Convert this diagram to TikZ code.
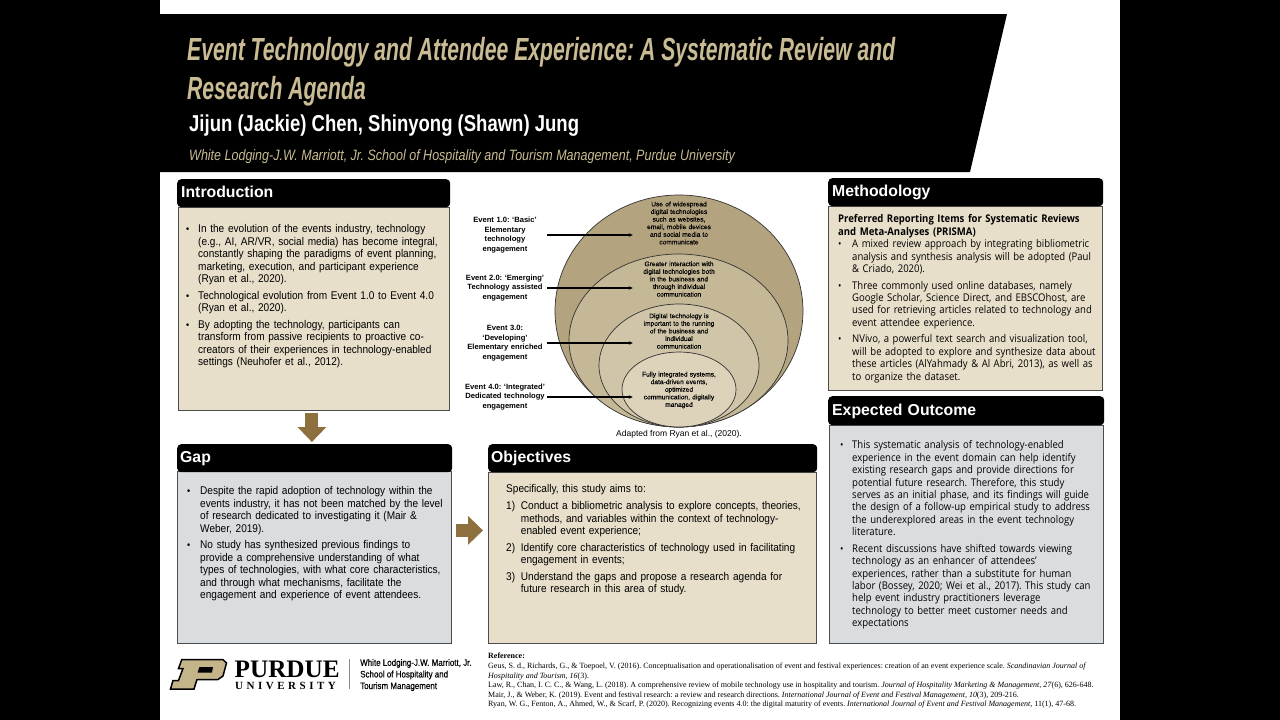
\documentclass[tikz,border=0pt]{standalone}
\usepackage{fontspec}
\usepackage{tikz}
\usetikzlibrary{arrows.meta,positioning}
\setmainfont{Liberation Sans}
\newfontfamily\listfont[FakeStretch=.9]{Liberation Sans}
\newfontfamily\opensans[FakeStretch=.9]{Open Sans}
\newfontfamily\timesfont{Liberation Serif}
\newfontfamily\titlefont[FakeStretch=.661]{Liberation Sans}
\newfontfamily\authorfont[FakeStretch=.805]{Liberation Sans}
\newfontfamily\schoolfont[FakeStretch=.834]{Liberation Sans}
\newfontfamily\logofont[FakeStretch=.85,FakeBold=.3]{Liberation Sans}
\newfontfamily\univfont[LetterSpace=32]{Liberation Serif}
\newfontfamily\ringfont[FakeBold=.2]{Liberation Sans}
\definecolor{aged}{HTML}{8E6F3E}
\definecolor{tanbody}{HTML}{E8DFCB}
\definecolor{greybody}{HTML}{DADDDF}
\definecolor{titlegold}{HTML}{C9BC94}
\definecolor{logogold}{HTML}{C4B48A}
\definecolor{ringa}{HTML}{B3A37F}
\definecolor{ringb}{HTML}{C4B896}
\definecolor{ringc}{HTML}{D0C5A8}
\definecolor{ringd}{HTML}{DDD3BB}
\newlength{\markw}
\newcommand{\fitem}[2][\fontsize{10}{10}\selectfont\textbullet]{\hangindent=\markw\hangafter=1\noindent\makebox[\markw][l]{#1}\strut #2}
\newcommand{\pitem}[2][\fontsize{10}{10}\selectfont\textbullet]{\par\fitem[#1]{#2}}
\tikzset{
  headbox/.style={anchor=north west, fill=black, text=white, rounded corners=4pt, inner sep=0pt, text width=#1, text height=11.5pt, text depth=2.5pt, font=\bfseries\fontsize{15.8}{18}\selectfont, align=left},
  bodybox/.style={anchor=north west, draw=black!70, line width=.8pt, inner sep=0pt},
  listtext/.style={anchor=north west, inner sep=0pt, text width=340pt, align=left, font=\listfont\fontsize{11.2}{12.45}\selectfont, execute at begin node={\def\\{\hfil\break}\setlength{\markw}{#1}\setlength{\parskip}{4.2pt}}},
  ringlabel/.style={inner sep=0pt, text width=84pt, align=center, font=\bfseries\fontsize{7.6}{9.7}\selectfont},
  ringtext/.style={inner sep=0pt, text width=92pt, align=center, font=\ringfont\fontsize{6.6}{7.6}\selectfont},
  pointer/.style={-{Stealth[length=4pt,width=3.5pt]}, line width=1.1pt},
  bigarrow/.style={-{Triangle[length=15pt,width=28pt]}, draw=aged, line width=13pt},
  ring/.style={draw=black!80, line width=.7pt}
}
\begin{document}
\frenchspacing
\begin{tikzpicture}[x=1pt,y=-1pt]
  \useasboundingbox (0,0) rectangle (1280,720);
  \fill[black] (0,0) rectangle (160,720);
  \fill[black] (1120,0) rectangle (1280,720);

  % title band
  \fill[black] (160,14) -- (1007,14) -- (970,172) -- (160,172) -- cycle;
  \node[anchor=west, inner sep=0pt, text=titlegold, font=\titlefont\bfseries\itshape\fontsize{32}{39}\selectfont] (titleone) at (187,52) {Event Technology and Attendee Experience: A Systematic Review and};
  \node[anchor=west, inner sep=0pt, text=titlegold, font=\titlefont\bfseries\itshape\fontsize{32}{39}\selectfont] (titletwo) at (187,91) {Research Agenda};
  \node[anchor=west, inner sep=0pt, text=white, font=\authorfont\bfseries\fontsize{23}{25}\selectfont] (authors) at (189,126) {Jijun (Jackie) Chen, Shinyong (Shawn) Jung};
  \node[anchor=west, inner sep=0pt, text=titlegold, font=\schoolfont\itshape\fontsize{15}{17}\selectfont] (school) at (189,157) {White Lodging-J.W. Marriott, Jr. School of Hospitality and Tourism Management, Purdue University};

  % panels
  \node[bodybox, fill=tanbody, minimum width=271pt, minimum height=203pt] (introbody) at (178,207) {};
  \node[headbox=265pt, minimum height=28pt, inner xsep=4pt] (introhead) at (177,179) {Introduction};
  \node[bodybox, fill=greybody, minimum width=274pt, minimum height=172pt] (gapbody) at (177,471) {};
  \node[headbox=269pt, minimum height=28pt, inner xsep=3pt] (gaphead) at (177,444) {Gap};
  \node[bodybox, fill=tanbody, minimum width=328pt, minimum height=171pt] (objbody) at (488,472) {};
  \node[headbox=323pt, minimum height=28pt, inner xsep=3pt] (objhead) at (488,444) {Objectives};
  \node[bodybox, fill=tanbody, minimum width=274pt, minimum height=184pt] (methbody) at (828,206) {};
  \node[headbox=267pt, minimum height=28pt, inner xsep=4pt] (methhead) at (828,178) {Methodology};
  \node[bodybox, fill=greybody, minimum width=274pt, minimum height=218pt] (outbody) at (829,425) {};
  \node[headbox=268pt, minimum height=29pt, inner xsep=4pt] (outhead) at (828,396) {Expected Outcome};

  \draw[bigarrow, shorten <=2pt, shorten >=2pt] ([xshift=-2pt]introbody.south) -- ([xshift=-2pt]introbody.south |- gaphead.north);
  \draw[bigarrow, shorten <=4pt, shorten >=5pt] ([yshift=27pt]gapbody.east) -- ([yshift=27pt]gapbody.east -| objbody.west);

  \node[listtext=12pt] (introtext) at (186,224) {
    \fitem{In the evolution of the events industry, technology\\(e.g., AI, AR/VR, social media) has become integral,\\constantly shaping the paradigms of event planning,\\marketing, execution, and participant experience\\(Ryan et al., 2020).}
    \pitem{Technological evolution from Event 1.0 to Event 4.0\\(Ryan et al., 2020).}
    \pitem{By adopting the technology, participants can\\transform from passive recipients to proactive co-\\creators of their experiences in technology-enabled\\settings (Neuhofer et al., 2012).}\par};
  \node[listtext=13pt] (gaptext) at (187,486) {
    \fitem{Despite the rapid adoption of technology within the\\events industry, it has not been matched by the level\\of research dedicated to investigating it (Mair \&\\Weber, 2019).}
    \pitem{No study has synthesized previous findings to\\provide a comprehensive understanding of what\\types of technologies, with what core characteristics,\\and through what mechanisms, facilitate the\\engagement and experience of event attendees.}\par};
  \node[listtext=14.7pt] (objtext) at (506,484) {
    \strut Specifically, this study aims to:
    \pitem[1)]{Conduct a bibliometric analysis to explore concepts, theories,\\methods, and variables within the context of technology-\\enabled event experience;}
    \pitem[2)]{Identify core characteristics of technology used in facilitating\\engagement in events;}
    \pitem[3)]{Understand the gaps and propose a research agenda for\\future research in this area of study.}\par};
  \node[listtext=14pt, font=\opensans\fontsize{10.6}{12.4}\selectfont] (methtext) at (838,214) {
    \textbf{\strut Preferred Reporting Items for Systematic Reviews\\and Meta-Analyses (PRISMA)}\par\vspace{-4.2pt}
    \fitem{A mixed review approach by integrating bibliometric\\analysis and synthesis analysis will be adopted (Paul\\\& Criado, 2020).}
    \pitem{Three commonly used online databases, namely\\Google Scholar, Science Direct, and EBSCOhost, are\\used for retrieving articles related to technology and\\event attendee experience.}
    \pitem{NVivo, a powerful text search and visualization tool,\\will be adopted to explore and synthesize data about\\these articles (AlYahmady \& Al Abri, 2013), as well as\\to organize the dataset.}\par};
  \node[listtext=12pt, font=\opensans\fontsize{10.6}{12.4}\selectfont] (outtext) at (840,440) {
    \fitem{This systematic analysis of technology-enabled\\experience in the event domain can help identify\\existing research gaps and provide directions for\\potential future research. Therefore, this study\\serves as an initial phase, and its findings will guide\\the design of a follow-up empirical study to address\\the underexplored areas in the event technology\\literature.}
    \pitem{Recent discussions have shifted towards viewing\\technology as an enhancer of attendees’\\experiences, rather than a substitute for human\\labor (Bossey, 2020; Wei et al., 2017). This study can\\help event industry practitioners leverage\\technology to better meet customer needs and\\expectations}\par};

  % nested event rings
  \draw[ring, fill=ringa] (679,311) ellipse (124pt and 116pt);
  \draw[ring, fill=ringb] (678.5,340.5) ellipse (109.5pt and 86.5pt);
  \draw[ring, fill=ringc] (679,365.5) ellipse (80pt and 61.5pt);
  \draw[ring, fill=ringd] (679,389.5) ellipse (57pt and 37.5pt);

  \node[ringtext] (descone) at (679,223) {Use of widespread\\digital technologies\\such as websites,\\email, mobile devices\\and social media to\\communicate};
  \node[ringtext] (desctwo) at (679,279) {Greater interaction with\\digital technologies both\\in the business and\\through individual\\communication};
  \node[ringtext] (descthree) at (679,331) {Digital technology is\\important to the running\\of the business and\\individual\\communication};
  \node[ringtext] (descfour) at (679,390) {Fully integrated systems,\\data-driven events,\\optimized\\communication, digitally\\managed};

  \node[ringlabel] (labone) at (505,235) {Event 1.0: ‘Basic’\\Elementary\\technology\\engagement};
  \node[ringlabel] (labtwo) at (505,288) {Event 2.0: ‘Emerging’\\Technology assisted\\engagement};
  \node[ringlabel] (labthree) at (505,343) {Event 3.0:\\‘Developing’\\Elementary enriched\\engagement};
  \node[ringlabel] (labfour) at (505,397) {Event 4.0: ‘Integrated’\\Dedicated technology\\engagement};

  \foreach \a/\b in {labone/descone,labtwo/desctwo,labthree/descthree,labfour/descfour}
    \draw[pointer] (\a.east) -- (\a.east -| \b.west);

  \node[inner sep=0pt, font=\fontsize{8.5}{9}\selectfont] (adapted) at (679,434) {Adapted from Ryan et al., (2020).};

  % logo
  \filldraw[fill=logogold, draw=black, line width=1.5pt, line join=miter] (181.7,659.7) -- (223,659.7) -- (226.5,663) -- (223,676) -- (218,679.5) -- (197,679.5) -- (194,689) -- (170.5,689) -- (173,680.5) -- (178.5,680.5) -- (183,668.5) -- (178.5,668.5) -- cycle;
  \fill[black] (199.5,667) -- (213,667) -- (212,672.5) -- (197.5,672.5) -- cycle;
  \node[anchor=base west, inner sep=0pt, font=\timesfont\bfseries\fontsize{25.2}{26}\selectfont] (purdue) at (234.5,677) {PURDUE};
  \node[anchor=base west, inner sep=0pt, font=\univfont\bfseries\fontsize{11}{11}\selectfont] (university) at (235,689) {UNIVERSITY};
  \node[minimum width=.8pt, minimum height=30pt, inner sep=0pt, fill=black!45] (logorule) at (349,674) {};
  \node[anchor=west, inner sep=0pt, align=left, font=\logofont\fontsize{9.4}{11.6}\selectfont] (logoschool) at (360,675) {White Lodging-J.W. Marriott, Jr.\\School of Hospitality and\\Tourism Management};

  % references
  \node[anchor=north west, inner sep=0pt, align=left, font=\timesfont\fontsize{8}{9.6}\selectfont] (refs) at (488,653) {\textbf{Reference:}\\
    Geus, S. d., Richards, G., \& Toepoel, V. (2016). Conceptualisation and operationalisation of event and festival experiences: creation of an event experience scale. \textit{Scandinavian Journal of}\\
    \textit{Hospitality and Tourism, 16}(3).\\
    Law, R., Chan, I. C. C., \& Wang, L. (2018). A comprehensive review of mobile technology use in hospitality and tourism. \textit{Journal of Hospitality Marketing \& Management, 27}(6), 626-648.\\
    Mair, J., \& Weber, K. (2019). Event and festival research: a review and research directions. \textit{International Journal of Event and Festival Management, 10}(3), 209-216.\\
    Ryan, W. G., Fenton, A., Ahmed, W., \& Scarf, P. (2020). Recognizing events 4.0: the digital maturity of events. \textit{International Journal of Event and Festival Management}, 11(1), 47-68.};
\end{tikzpicture}
\end{document}
